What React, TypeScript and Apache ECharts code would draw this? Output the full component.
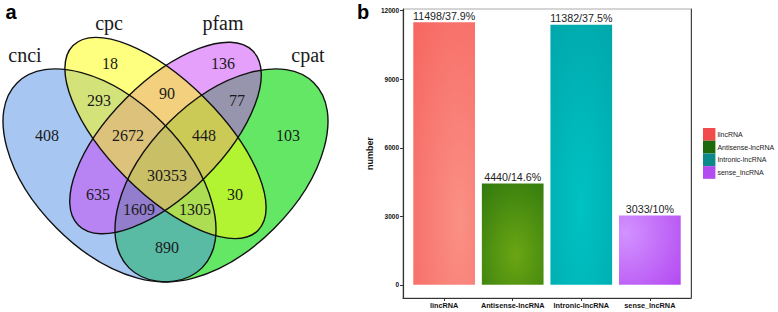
import React, { useEffect, useRef } from "react";
import * as echarts from "echarts";

// ---- Venn data (panel a) ----
const vennSetNames = ["cnci", "cpc", "pfam", "cpat"];
const vennCounts = [18, 136, 293, 90, 77, 408, 2672, 448, 103, 30353, 635, 30, 1609, 1305, 890];

// ---- Bar data (panel b) ----
const categories = ["lincRNA", "Antisense-lncRNA", "Intronic-lncRNA", "sense_lncRNA"];
const counts = [11498, 4440, 11382, 3033];
const percents = ["37.9", "14.6", "37.5", "10"];
const yTicks = [0, 3000, 6000, 9000, 12000];

// layout (positions of venn texts, px)
const vennCountPos: [number, number][] = [
  [110, 63], [223, 63], [99, 100], [167, 93], [237, 100],
  [47, 135], [128, 135], [204, 135], [288, 135],
  [167, 175], [98, 194], [235, 194], [139, 209], [195, 209], [167, 247],
];
const vennNamePos: [number, number][] = [[25, 55], [109, 23], [223, 23], [308, 55]];

const legendColors = ["#f24b4b", "#1d6a0c", "#0c898b", "#b24cf0"];
const barGradients = [
  [0.75, 0.75, 1.6, "#fa9086", "#f4504b"],
  [0.55, 0.7, 1.2, "#6aa513", "#1d6a0c"],
  [0.5, 0.7, 1.8, "#00c2c4", "#00898d"],
  [0.1, 0.25, 1.3, "#d292ff", "#b042f0"],
];

export default function App() {
  const ref = useRef<HTMLDivElement>(null);
  useEffect(() => {
    document.body.style.margin = "0";
    const chart = echarts.init(ref.current!, null, { renderer: "svg" });

    // venn ellipses: cx, cy, rx, ry, rotation, fill
    const ellipses = [
      { name: "cpat", cx: 221.5, cy: 175.4, rx: 130.8, ry: 74.7, rot: Math.PI / 4, fill: "rgba(34,221,34,0.7)" },
      { name: "cnci", cx: 109.5, cy: 175.4, rx: 130.8, ry: 74.7, rot: -Math.PI / 4, fill: "rgba(79,143,230,0.5)" },
      { name: "pfam", cx: 165.5, cy: 138, rx: 123.3, ry: 56, rot: Math.PI / 4, fill: "rgba(201,65,245,0.5)" },
      { name: "cpc", cx: 165.5, cy: 138, rx: 130.8, ry: 56, rot: -Math.PI / 4, fill: "rgba(255,255,0,0.5)" },
    ];
    const graphic: any[] = [];
    ellipses.forEach((e) => {
      graphic.push({
        type: "ellipse", x: e.cx, y: e.cy, rotation: e.rot,
        shape: { cx: 0, cy: 0, rx: e.rx, ry: e.ry },
        style: { fill: e.fill, stroke: "none" }, silent: true,
      });
    });
    ellipses.forEach((e) => {
      graphic.push({
        type: "ellipse", x: e.cx, y: e.cy, rotation: e.rot,
        shape: { cx: 0, cy: 0, rx: e.rx, ry: e.ry },
        style: { fill: "none", stroke: "#111", lineWidth: 1.4 }, silent: true,
      });
    });
    vennCounts.forEach((c, i) => {
      graphic.push({
        type: "text", x: vennCountPos[i][0], y: vennCountPos[i][1],
        style: {
          text: String(c), font: '16px "Liberation Serif"', fill: "#1a1a1a",
          align: "center", verticalAlign: "middle", textAlign: "center", textVerticalAlign: "middle",
        },
      });
    });
    vennSetNames.forEach((n, i) => {
      graphic.push({
        type: "text", x: vennNamePos[i][0], y: vennNamePos[i][1],
        style: {
          text: n, font: '20px "Liberation Serif"', fill: "#1a1a1a",
          align: "center", verticalAlign: "middle", textAlign: "center", textVerticalAlign: "middle",
        },
      });
    });
    [["a", 11, 12], ["b", 363, 12]].forEach(([t, x, y]) => {
      graphic.push({
        type: "text", x, y,
        style: {
          text: t, font: 'bold 20px "Liberation Sans"', fill: "#000",
          align: "center", verticalAlign: "middle", textAlign: "center", textVerticalAlign: "middle",
        },
      });
    });

    const series = categories.map((cat, i) => {
      const g = barGradients[i];
      return {
        name: cat,
        type: "bar",
        barWidth: 61.7,
        barGap: "-100%",
        data: [[i + 1, counts[i]]],
        itemStyle: {
          color: new echarts.graphic.RadialGradient(g[0] as number, g[1] as number, g[2] as number, [
            { offset: 0, color: g[3] as string },
            { offset: 1, color: g[4] as string },
          ]),
        },
        label: {
          show: true, position: "top", distance: 1,
          formatter: () => `${counts[i]}/${percents[i]}%`,
          fontSize: 10.7, color: "#222", fontFamily: "Liberation Sans",
        },
      };
    });

    chart.setOption({
      animation: false,
      backgroundColor: "#fff",
      graphic,
      legend: {
        orient: "vertical", left: 703, top: 128, itemWidth: 12.4, itemHeight: 12.7, itemGap: 0,
        padding: 0, icon: "rect",
        textStyle: { fontSize: 7, color: "#222", fontFamily: "Liberation Sans", padding: [0, 0, 0, -3] },
        data: categories.map((c, i) => ({ name: c, itemStyle: { color: legendColors[i] } })),
      },
      grid: {
        left: 403, right: 87, top: 9, bottom: 14, show: true,
        borderColor: "#aaa", borderWidth: 1, backgroundColor: "#fff",
      },
      xAxis: {
        type: "value", min: 0.4, max: 4.6,
        axisLine: { show: true, onZero: false, lineStyle: { color: "#333", width: 1.2 } },
        axisTick: { show: true, length: 3, customValues: [1, 2, 3, 4], lineStyle: { color: "#333" } },
        axisLabel: {
          customValues: [1, 2, 3, 4], margin: 4,
          formatter: (v: number) => categories[Math.round(v) - 1],
          fontSize: 7.3, fontWeight: "bold", color: "#111", fontFamily: "Liberation Sans",
        },
        splitLine: { show: false },
      },
      yAxis: [
        {
          type: "value", min: -574.9, max: 12072.9,
          name: "number", nameLocation: "middle", nameGap: 29,
          nameTextStyle: { fontSize: 9, fontWeight: "bold", color: "#111", fontFamily: "Liberation Sans" },
          axisLine: { show: true, onZero: false, lineStyle: { color: "#333", width: 1.2 } },
          axisTick: { show: true, length: 3, customValues: yTicks, lineStyle: { color: "#333" } },
          axisLabel: {
            customValues: yTicks, margin: 4,
            formatter: (v: number) => String(v),
            fontSize: 6.5, fontWeight: "bold", color: "#111", fontFamily: "Liberation Sans",
          },
          splitLine: { show: false },
        },
        {
          type: "value", min: -574.9, max: 12072.9, position: "right",
          axisLine: { show: true, onZero: false, lineStyle: { color: "#444", width: 1 } },
          axisTick: { show: false }, axisLabel: { show: false }, splitLine: { show: false },
        },
      ],
      series,
    });
    return () => chart.dispose();
  }, []);
  return <div ref={ref} style={{ position: "absolute", left: 0, top: 0, width: 778, height: 312 }} />;
}
